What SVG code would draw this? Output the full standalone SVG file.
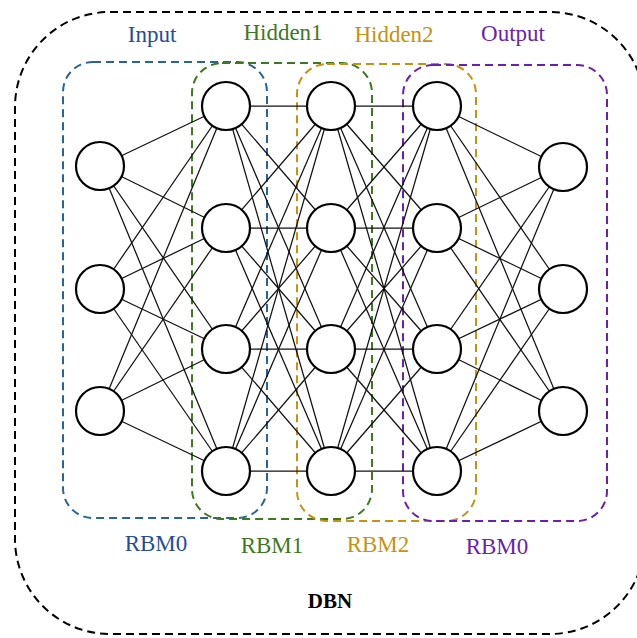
<svg xmlns="http://www.w3.org/2000/svg" width="637" height="638" viewBox="0 0 637 638">
<style>
.node{fill:#fff;stroke:#000;stroke-width:2.2}
.edge{stroke:#111;stroke-width:1.25}
.box{fill:none;stroke-width:2;stroke-dasharray:8 5}
.lbl{font-family:'Liberation Serif','DejaVu Serif',serif;font-size:23px;text-anchor:middle}
.title{font-family:'Liberation Serif','DejaVu Serif',serif;font-size:21px;font-weight:bold;text-anchor:middle}
.blue{stroke:#2a6496}.green{stroke:#3d7a1f}.orange{stroke:#c8920e}.purple{stroke:#6a1fb0}
</style>
<rect width="637" height="638" fill="#fff"/>
<g id="boxes">
<rect class="box" x="15" y="12" width="630" height="622" rx="95" ry="95" stroke="#000"/>
<rect class="box blue" x="63" y="62" width="204" height="456" rx="30"/>
<rect class="box green" x="192" y="63" width="180" height="456" rx="30"/>
<rect class="box orange" x="297" y="64" width="179" height="457" rx="30"/>
<rect class="box purple" x="403" y="65" width="204" height="456" rx="30"/>
</g>
<g id="connectors" class="edge">
<line x1="100" y1="166" x2="226" y2="106"/><line x1="100" y1="166" x2="226" y2="228"/><line x1="100" y1="166" x2="226" y2="349"/><line x1="100" y1="166" x2="226" y2="471"/>
<line x1="100" y1="289" x2="226" y2="106"/><line x1="100" y1="289" x2="226" y2="228"/><line x1="100" y1="289" x2="226" y2="349"/><line x1="100" y1="289" x2="226" y2="471"/>
<line x1="100" y1="411" x2="226" y2="106"/><line x1="100" y1="411" x2="226" y2="228"/><line x1="100" y1="411" x2="226" y2="349"/><line x1="100" y1="411" x2="226" y2="471"/>
<line x1="226" y1="106" x2="331" y2="106"/><line x1="226" y1="106" x2="331" y2="228"/><line x1="226" y1="106" x2="331" y2="349"/><line x1="226" y1="106" x2="331" y2="471"/>
<line x1="226" y1="228" x2="331" y2="106"/><line x1="226" y1="228" x2="331" y2="228"/><line x1="226" y1="228" x2="331" y2="349"/><line x1="226" y1="228" x2="331" y2="471"/>
<line x1="226" y1="349" x2="331" y2="106"/><line x1="226" y1="349" x2="331" y2="228"/><line x1="226" y1="349" x2="331" y2="349"/><line x1="226" y1="349" x2="331" y2="471"/>
<line x1="226" y1="471" x2="331" y2="106"/><line x1="226" y1="471" x2="331" y2="228"/><line x1="226" y1="471" x2="331" y2="349"/><line x1="226" y1="471" x2="331" y2="471"/>
<line x1="331" y1="106" x2="437" y2="106"/><line x1="331" y1="106" x2="437" y2="228"/><line x1="331" y1="106" x2="437" y2="349"/><line x1="331" y1="106" x2="437" y2="471"/>
<line x1="331" y1="228" x2="437" y2="106"/><line x1="331" y1="228" x2="437" y2="228"/><line x1="331" y1="228" x2="437" y2="349"/><line x1="331" y1="228" x2="437" y2="471"/>
<line x1="331" y1="349" x2="437" y2="106"/><line x1="331" y1="349" x2="437" y2="228"/><line x1="331" y1="349" x2="437" y2="349"/><line x1="331" y1="349" x2="437" y2="471"/>
<line x1="331" y1="471" x2="437" y2="106"/><line x1="331" y1="471" x2="437" y2="228"/><line x1="331" y1="471" x2="437" y2="349"/><line x1="331" y1="471" x2="437" y2="471"/>
<line x1="437" y1="106" x2="563" y2="167"/><line x1="437" y1="106" x2="563" y2="289"/><line x1="437" y1="106" x2="563" y2="411"/>
<line x1="437" y1="228" x2="563" y2="167"/><line x1="437" y1="228" x2="563" y2="289"/><line x1="437" y1="228" x2="563" y2="411"/>
<line x1="437" y1="349" x2="563" y2="167"/><line x1="437" y1="349" x2="563" y2="289"/><line x1="437" y1="349" x2="563" y2="411"/>
<line x1="437" y1="471" x2="563" y2="167"/><line x1="437" y1="471" x2="563" y2="289"/><line x1="437" y1="471" x2="563" y2="411"/>
</g>
<g id="input-layer">
<circle class="node" cx="100" cy="166" r="24"/><circle class="node" cx="100" cy="289" r="24"/><circle class="node" cx="100" cy="411" r="24"/>
</g>
<g id="hidden1-layer">
<circle class="node" cx="226" cy="106" r="24"/><circle class="node" cx="226" cy="228" r="24"/><circle class="node" cx="226" cy="349" r="24"/><circle class="node" cx="226" cy="471" r="24"/>
</g>
<g id="hidden2-layer">
<circle class="node" cx="331" cy="106" r="24"/><circle class="node" cx="331" cy="228" r="24"/><circle class="node" cx="331" cy="349" r="24"/><circle class="node" cx="331" cy="471" r="24"/>
</g>
<g id="hidden3-layer">
<circle class="node" cx="437" cy="106" r="24"/><circle class="node" cx="437" cy="228" r="24"/><circle class="node" cx="437" cy="349" r="24"/><circle class="node" cx="437" cy="471" r="24"/>
</g>
<g id="output-layer">
<circle class="node" cx="563" cy="167" r="24"/><circle class="node" cx="563" cy="289" r="24"/><circle class="node" cx="563" cy="411" r="24"/>
</g>
<g id="labels">
<text class="lbl" x="152" y="42" fill="#1f4e9a">Input</text>
<text class="lbl" x="283" y="40" fill="#3d7a1f">Hidden1</text>
<text class="lbl" x="394" y="42" fill="#c8920e">Hidden2</text>
<text class="lbl" x="513" y="41" fill="#6a1fb0">Output</text>
<text class="lbl" x="156" y="551" fill="#1f4e9a">RBM0</text>
<text class="lbl" x="272" y="553" fill="#3d7a1f">RBM1</text>
<text class="lbl" x="378" y="552" fill="#c8920e">RBM2</text>
<text class="lbl" x="497" y="554" fill="#6a1fb0">RBM0</text>
<text class="title" x="330" y="608" fill="#000">DBN</text>
</g>
</svg>
